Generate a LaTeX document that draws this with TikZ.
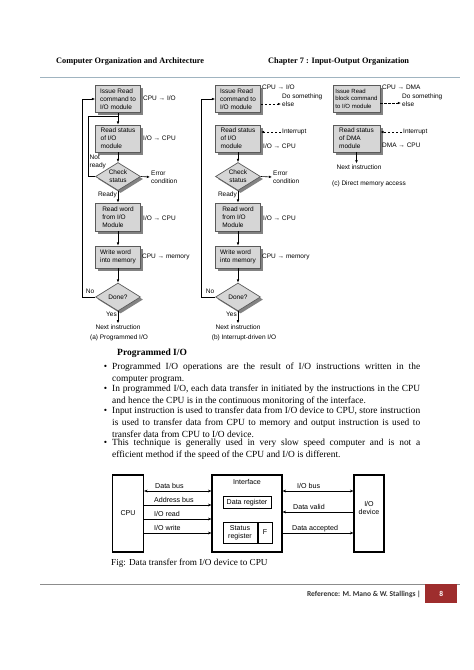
\documentclass[tikz,border=0pt]{standalone}
\usepackage{fontspec}
\setmainfont{Liberation Serif}
\newfontfamily\arialf{Liberation Sans}
\newfontfamily\calibf{Carlito}
\usetikzlibrary{shapes.geometric,arrows.meta,shadows}
\definecolor{boxfill}{RGB}{214,214,214}
\definecolor{boxdraw}{RGB}{90,90,90}
\definecolor{shadowc}{RGB}{130,130,130}
\definecolor{rulec}{RGB}{160,180,192}
\definecolor{footred}{RGB}{158,45,45}
\newcommand\fcf{\arialf\fontsize{6.5}{8}\selectfont}
\newcommand\fcs{\arialf\fontsize{6}{7.6}\selectfont}
\newcommand\busf{\arialf\fontsize{7.1}{8}\selectfont}
\newcommand\bodyf{\fontsize{9.4}{11.8}\selectfont\hyphenpenalty=10000\exhyphenpenalty=10000\emergencystretch=10pt}
\begin{document}
\begin{tikzpicture}[x=1pt,y=-1pt,
  shad/.style={drop shadow={shadow xshift=2.5pt, shadow yshift=-2.5pt, fill=shadowc, opacity=1}},
  fbox/.style={shad, draw=boxdraw, fill=boxfill, line width=0.7pt, minimum width=45pt, minimum height=27pt, inner sep=0pt, align=left, font=\fcf},
  fdia/.style={shad, diamond, aspect=1.6, draw=boxdraw, fill=boxfill, line width=0.7pt, minimum width=45pt, minimum height=28pt, inner sep=0pt, align=center, font=\fcf},
  lbl/.style={font=\fcf, inner sep=1pt, align=left},
  arr/.style={-{Latex[length=3.2pt,width=2.6pt]}, line width=0.6pt},
  ln/.style={line width=0.6pt},
  darr/.style={-{Latex[length=3.2pt,width=2.6pt]}, line width=0.8pt, dash pattern=on 2.5pt off 1.5pt},
  bbox/.style={draw, line width=1.1pt, minimum height=77pt, inner sep=0pt, font=\busf, align=center},
  bl/.style={font=\busf, inner sep=0pt},
  barr/.style={-{Stealth[length=3.5pt,width=2.8pt]}, line width=1pt},
  bdbl/.style={{Stealth[length=3.5pt,width=2.8pt]}-{Stealth[length=3.5pt,width=2.8pt]}, line width=1pt},
  para/.style={text width=308pt, align=justify, inner sep=0pt, font=\bodyf, anchor=north west}
]
\useasboundingbox[fill=white] (0,0) rectangle (474,670);

% ---------- header ----------
\node[anchor=base west, inner sep=0pt, font=\bfseries\fontsize{8.3}{10}\selectfont] (hl) at (56,63) {Computer Organization and Architecture};
\node[anchor=base west, inner sep=0pt, font=\bfseries\fontsize{8.3}{10}\selectfont] (hr) at (268,63) {Chapter 7 : Input-Output Organization};
\coordinate (hr1) at (40,77.5);
\coordinate (hr2) at (460,77.5);
\draw[rulec, line width=1.6pt] (hr1) -- (hr2);

% ---------- (a) Programmed I/O ----------
\node[fbox] (a1) at (118,99) {Issue Read\\command to\\I/O module};
\node[fbox] (a2) at (118,138.5) {Read status\\of I/O\\module};
\node[fdia] (a3) at (118,176.5) {Check\\status};
\node[fbox, minimum height=28pt] (a4) at (118,217) {Read word\\from I/O\\Module};
\node[fbox, minimum height=22pt] (a5) at (118,257) {Write word\\into memory};
\node[fdia] (a6) at (118,297) {Done?};
\node[lbl, anchor=west] at (142,98) {CPU → I/O};
\node[lbl, anchor=west] at (142,138) {I/O → CPU};
\node[lbl, anchor=west] (a3e) at (150,177) {Error\\condition};
\node[lbl, anchor=west, inner sep=0.5pt] at (89,162) {Not\\ready};
\node[lbl, anchor=east] at (118,195) {Ready};
\node[lbl, anchor=west] at (142,218) {I/O → CPU};
\node[lbl, anchor=west] at (141,257) {CPU → memory};
\node[lbl] at (90,291) {No};
\node[lbl, anchor=east] at (118,314) {Yes};
\node[lbl] (a7) at (118,327) {Next instruction};
\node[lbl] at (119,338) {(a) Programmed I/O};
\coordinate (a12) at (118,116.5);
\draw[arr] (a1) -- (a2);
\draw[ln] (a3.west) -- ++(-7,0) |- (a12);
\draw[arr] (a2) -- (a3);
\draw[arr] (a3) -- (a4);
\draw[arr] (a3.east) -- (a3e.west);
\draw[arr] (a4) -- (a5);
\draw[arr] (a5) -- (a6);
\draw[arr] (a6.west) -- ++(-12.5,0) |- (a1.west);
\draw[arr] (a6) -- (a7);

% ---------- (b) Interrupt-driven I/O ----------
\node[fbox] (b1) at (238,99) {Issue Read\\command to\\I/O module};
\node[fbox] (b2) at (238,138.5) {Read status\\of I/O\\module};
\node[fdia] (b3) at (238,176.5) {Check\\status};
\node[fbox, minimum height=28pt] (b4) at (238,217) {Read word\\from I/O\\Module};
\node[fbox, minimum height=22pt] (b5) at (238,257) {Write word\\into memory};
\node[fdia] (b6) at (238,297) {Done?};
\node[lbl, anchor=west] at (261,87.5) {CPU → I/O};
\node[lbl, anchor=west] (b1d) at (281,100.5) {Do something\\else};
\node[lbl, anchor=west] (b2i) at (281,132) {Interrupt};
\node[lbl, anchor=west] at (262,146) {I/O → CPU};
\node[lbl, anchor=west] (b3e) at (272,177) {Error\\condition};
\node[lbl, anchor=east] at (238,195) {Ready};
\node[lbl, anchor=west] at (262,218) {I/O → CPU};
\node[lbl, anchor=west] at (261,257) {CPU → memory};
\node[lbl] at (210,291) {No};
\node[lbl, anchor=east] at (238,314) {Yes};
\node[lbl] (b7) at (238,327) {Next instruction};
\node[lbl] at (244,338) {(b) Interrupt-driven I/O};
\draw[darr] ([yshift=-5pt]b1.east) -- ([yshift=-5pt]b1.east -| b1d.west);
\draw[darr] (b2i.west) -- (b2.east |- b2i.west);
\draw[arr] (b2) -- (b3);
\draw[arr] (b3) -- (b4);
\draw[arr] (b3.east) -- (b3e.west);
\draw[arr] (b4) -- (b5);
\draw[arr] (b5) -- (b6);
\draw[arr] (b6.west) -- ++(-13.5,0) |- (b1.west);
\draw[arr] (b6) -- (b7);

% ---------- (c) DMA ----------
\node[fbox, minimum width=47pt, font=\fcs] (c1) at (356.5,98.5) {Issue Read\\block command\\to I/O module};
\node[fbox, minimum width=47pt] (c2) at (356.5,138.5) {Read status\\of DMA\\module};
\node[lbl, anchor=west] at (381,87.5) {CPU → DMA};
\node[lbl, anchor=west] (c1d) at (401,100) {Do something\\else};
\node[lbl, anchor=west] (c2i) at (402,132) {Interrupt};
\node[lbl, anchor=west] at (381,145.5) {DMA → CPU};
\node[lbl] (c3) at (359,167) {Next instruction};
\node[lbl] at (369,184) {(c) Direct memory access};
\draw[darr] ([yshift=-4.5pt]c1.east) -- ([yshift=-4.5pt]c1.east -| c1d.west);
\draw[darr] (c2i.west) -- (c2.east |- c2i.west);
\draw[arr] (c2.south) -- (c2.south |- c3.north);

% ---------- text ----------
\node[anchor=base west, inner sep=0pt, font=\bfseries\fontsize{9.5}{11}\selectfont] (hd) at (117,355.5) {Programmed I/O};
\node[para] (p1) at (112,362.5) {\llap{\textbullet\hspace{5pt}}Programmed I/O operations are the result of I/O instructions written in the\linebreak computer program.};
\node[para] (p2) at ([yshift=-1.4pt]p1.south west) {\llap{\textbullet\hspace{5pt}}In programmed I/O, each data transfer in initiated by the instructions in the CPU\linebreak and hence the CPU is in the continuous monitoring of the interface.};
\node[para] (p3) at ([yshift=-1.4pt]p2.south west) {\llap{\textbullet\hspace{5pt}}Input instruction is used to transfer data from I/O device to CPU, store instruction\linebreak is used to transfer data from CPU to memory and output instruction is used to\linebreak transfer data from CPU to I/O device.};
\node[para] (p4) at ([yshift=-1.4pt]p3.south west) {\llap{\textbullet\hspace{5pt}}This technique is generally used in very slow speed computer and is not a\linebreak efficient method if the speed of the CPU and I/O is different.};

% ---------- bus diagram ----------
\node[bbox, minimum width=31pt] (cpu) at (128,513.5) {CPU};
\node[bbox, minimum width=70pt] (intf) at (247,513.5) {};
\node[bbox, minimum width=30pt] (dev) at (369,513.5) {};
\node[bl, align=center] (devt) at (369,508) {I/O\\device};
\node[bl, anchor=north] (intt) at ([yshift=-5pt]intf.north) {Interface};
\node[draw, line width=1pt, minimum width=48pt, minimum height=12pt, inner sep=0pt, font=\busf] (dreg) at (247,502.5) {Data register};
\node[draw, line width=1pt, minimum width=34pt, minimum height=21pt, inner sep=0pt, font=\busf, align=center] (sreg) at (240,532.5) {Status\\register};
\node[draw, line width=1pt, minimum width=14pt, minimum height=21pt, inner sep=0pt, font=\busf, anchor=west] (freg) at (sreg.east) {F};
\draw[bdbl] ([yshift=22.5pt]cpu.east) -- ([yshift=22.5pt]intf.west);
\draw[barr] ([yshift=8.5pt]cpu.east) -- ([yshift=8.5pt]intf.west);
\draw[barr] ([yshift=-5.5pt]cpu.east) -- ([yshift=-5.5pt]intf.west);
\draw[barr] ([yshift=-19.5pt]cpu.east) -- ([yshift=-19.5pt]intf.west);
\draw[bdbl] ([yshift=22.5pt]intf.east) -- ([yshift=22.5pt]dev.west);
\draw[barr] ([yshift=1.5pt]dev.west) -- ([yshift=1.5pt]intf.east);
\draw[barr] ([yshift=-19.5pt]intf.east) -- ([yshift=-19.5pt]dev.west);
\node[bl, anchor=base west] at (155,488) {Data bus};
\node[bl, anchor=base west] at (154,502) {Address bus};
\node[bl, anchor=base west] at (154,516) {I/O read};
\node[bl, anchor=base west] at (154,530) {I/O write};
\node[bl, anchor=base west] at (297,488) {I/O bus};
\node[bl, anchor=base west] at (293,509) {Data valid};
\node[bl, anchor=base west] at (292,530) {Data accepted};
\node[anchor=base west, inner sep=0pt, font=\fontsize{9.2}{11}\selectfont] (cap) at (111,565.5) {Fig: Data transfer from I/O device to CPU};

% ---------- footer ----------
\coordinate (fr1) at (40,584);
\coordinate (fr2) at (460,584);
\draw[black!45, line width=0.8pt] (fr1) -- (fr2);
\node[fill=footred, minimum width=32pt, minimum height=19pt, inner sep=0pt, anchor=north west, text=white, font=\calibf\bfseries\fontsize{7.5}{9}\selectfont] (pg) at (425,584) {8};
\node[anchor=base east, inner sep=0pt, font=\calibf\bfseries\fontsize{7.5}{9}\selectfont, text=black!80] (ref) at (421,596) {Reference: M. Mano \& W. Stallings |};
\end{tikzpicture}
\end{document}
